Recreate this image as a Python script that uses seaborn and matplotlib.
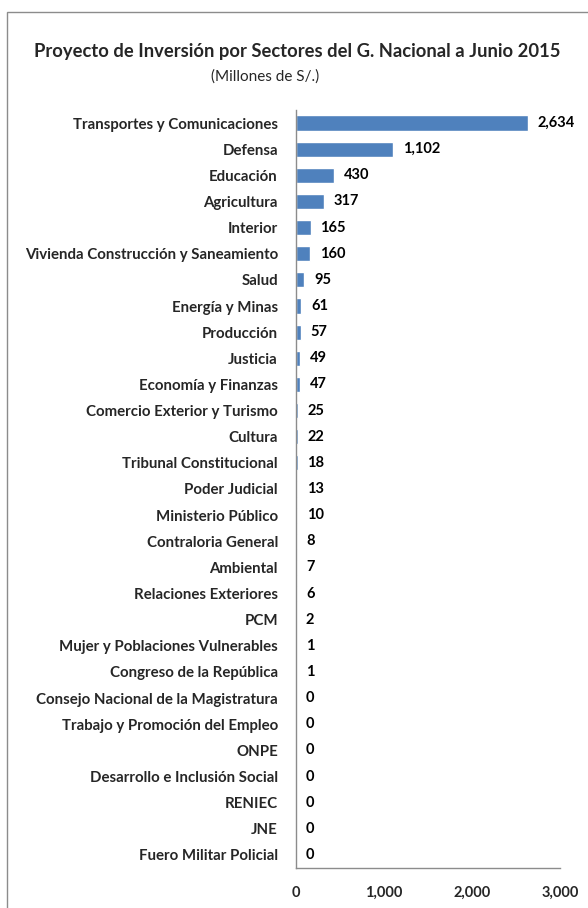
import matplotlib
matplotlib.use("Agg")
import matplotlib.pyplot as plt
import seaborn as sns
import pandas as pd
from matplotlib.patches import Rectangle

# data (millones de S/.)
sectores = [
    "Transportes y Comunicaciones", "Defensa", "Educación", "Agricultura",
    "Interior", "Vivienda Construcción y Saneamiento", "Salud", "Energía y Minas",
    "Producción", "Justicia", "Economía y Finanzas", "Comercio Exterior y Turismo",
    "Cultura", "Tribunal Constitucional", "Poder Judicial", "Ministerio Público",
    "Contraloria General", "Ambiental", "Relaciones Exteriores", "PCM",
    "Mujer y Poblaciones Vulnerables", "Congreso de la República",
    "Consejo Nacional de la Magistratura", "Trabajo y Promoción del Empleo",
    "ONPE", "Desarrollo e Inclusión Social", "RENIEC", "JNE", "Fuero Militar Policial",
]
montos = [2634, 1102, 430, 317, 165, 160, 95, 61, 57, 49, 47, 25, 22, 18,
          13, 10, 8, 7, 6, 2, 1, 1, 0, 0, 0, 0, 0, 0, 0]
etiquetas = ["2,634", "1,102", "430", "317", "165", "160", "95", "61", "57",
             "49", "47", "25", "22", "18", "13", "10", "8", "7", "6", "2",
             "1", "1", "0", "0", "0", "0", "0", "0", "0"]

df = pd.DataFrame({"sector": sectores, "monto": montos})

sns.set_style("white")
plt.rcParams['font.family'] = ['Lato', 'DejaVu Sans']

fig = plt.figure(figsize=(5.88, 9.08), dpi=100)
ax = fig.add_axes([296 / 588, 1 - 868 / 908, 264 / 588, 758 / 908])

sns.barplot(data=df, x="monto", y="sector", color="#4F81BD", saturation=1,
            width=0.58, ax=ax)

for i, (v, t) in enumerate(zip(montos, etiquetas)):
    ax.text(v + 110, i, t, va="center", ha="left", fontsize=10.5,
            fontweight="bold", color="black")

ax.set_xlim(0, 3000)
ax.set_xticks([0, 1000, 2000, 3000])
ax.set_xticklabels(["0", "1,000", "2,000", "3,000"], fontsize=10.5,
                   fontweight="bold")
ax.tick_params(axis="x", length=0, pad=13)
ax.tick_params(axis="y", length=0, pad=13, labelsize=10.8)
for lab in ax.get_yticklabels():
    lab.set_fontweight("bold")
ax.set_xlabel("")
ax.set_ylabel("")

for s in ["top", "right"]:
    ax.spines[s].set_visible(False)
for s in ["left", "bottom"]:
    ax.spines[s].set_color("#8C8C8C")
    ax.spines[s].set_linewidth(1)

fig.text(297 / 588, 1 - 52 / 908, "Proyecto de Inversión por Sectores del G. Nacional a Junio 2015",
         ha="center", va="center", fontsize=13.2, fontweight="bold")
fig.text(265 / 588, 1 - 77 / 908, "(Millones de S/.)", ha="center", va="center",
         fontsize=11)

# outer chart frame
fig.patches.append(Rectangle((7 / 588, -0.1), 1.2, 1 - 12 / 908 + 0.1,
                             transform=fig.transFigure, fill=False,
                             edgecolor="#8C8C8C", linewidth=1))

fig.savefig("out.png", dpi=100)
